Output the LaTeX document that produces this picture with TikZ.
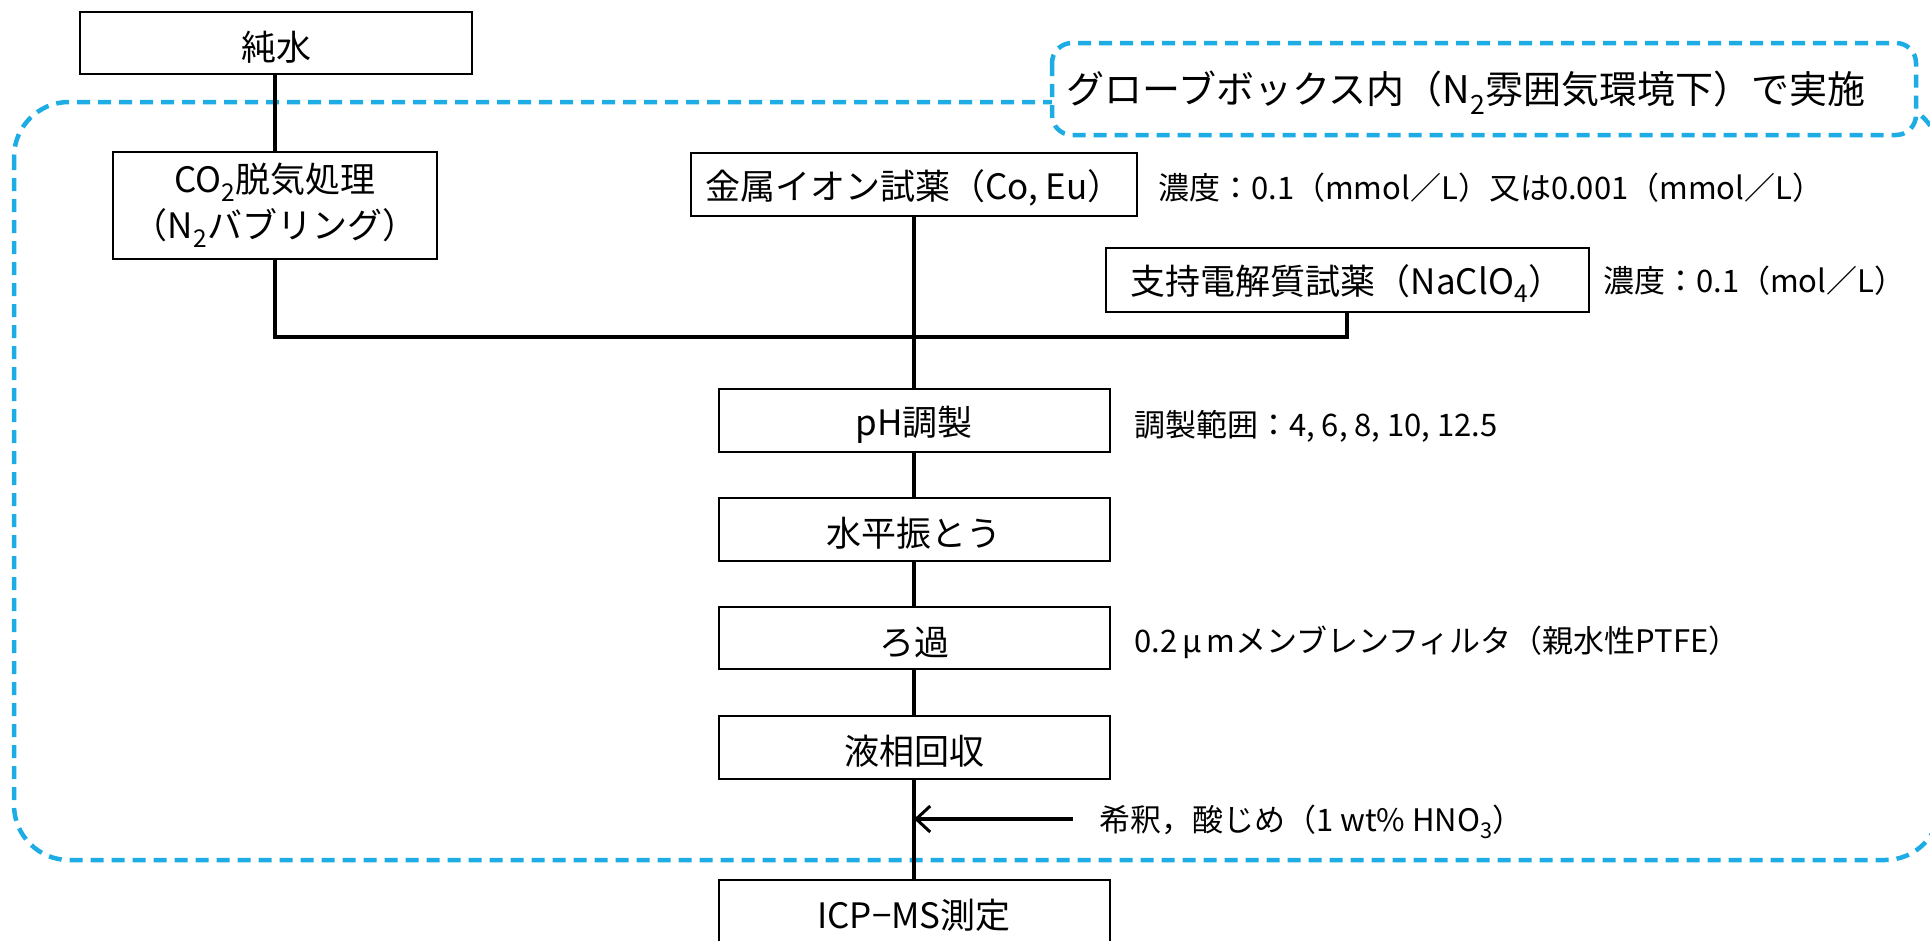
\documentclass[tikz,border=0pt]{standalone}
\usepackage{fontspec}
\setmainfont{Noto Sans CJK JP}
\usetikzlibrary{arrows.meta}
\definecolor{gbblue}{RGB}{30,172,228}
\begin{document}
\begin{tikzpicture}[x=1pt,y=-1pt,
  box/.style={draw=black,line width=2pt,fill=white,inner sep=0pt,align=center,font=\fontsize{35}{46}\selectfont,execute at begin node={\rule{0pt}{37pt}}},
  note/.style={anchor=base west,inner sep=0pt,font=\fontsize{31}{38}\selectfont},
  flow/.style={line width=3.5pt},
  gb/.style={draw=gbblue,line width=4.5pt,dash pattern=on 13pt off 8pt}]
\useasboundingbox (0,0) rectangle (1930,940);
\clip (0,0) rectangle (1930,940);
% glovebox region
\draw[gb,rounded corners=55pt] (14,102) rectangle (1940,860);
\draw[gb,fill=white,rounded corners=20pt] (1052,43) rectangle (1916,135);
\node[inner sep=0pt,font=\fontsize{38}{44}\selectfont] (gblabel) at (1466,93) {グローブボックス内（N\textsubscript{2}雰囲気環境下）で実施};
% boxes
\node[box,minimum width=392pt,minimum height=62pt] (pure) at (276,43) {純水};
\node[box,minimum width=324pt,minimum height=107pt] (co2) at (275,205.5) {CO\textsubscript{2}脱気処理\\（N\textsubscript{2}バブリング）};
\node[box,minimum width=446pt,minimum height=63pt] (metal) at (914,184.5) {金属イオン試薬（Co, Eu）};
\node[box,minimum width=483pt,minimum height=64pt] (support) at (1347,280) {支持電解質試薬（NaClO\textsubscript{4}）};
\node[box,minimum width=391pt,minimum height=63pt] (ph) at (914,420.5) {pH調製};
\node[box,minimum width=391pt,minimum height=63pt] (shake) at (914,529.5) {水平振とう};
\node[box,minimum width=391pt,minimum height=62pt] (filter) at (914,638) {ろ過};
\node[box,minimum width=391pt,minimum height=63pt] (recover) at (914,747.5) {液相回収};
\node[box,minimum width=391pt,minimum height=63pt] (icp) at (914,911.5) {ICP−MS測定};
% notes
\node[note] (n1) at (1158,199) {濃度：0.1（mmol／L）又は0.001（mmol／L）};
\node[note] (n2) at (1603,292) {濃度：0.1（mol／L）};
\node[note] (n3) at (1134,436) {調製範囲：4, 6, 8, 10, 12.5};
\node[note] (n4) at (1134,652) {0.2\hspace{5pt}μ\hspace{5pt}mメンブレンフィルタ（親水性PTFE）};
\node[note] (n5) at (1099,831) {希釈，酸じめ（1 wt\% HNO\textsubscript{3}）};
% connectors
\coordinate (jy) at (0,337);
\draw[flow] (pure.south -| co2.north) -- (co2.north);
\draw[flow] (co2.south) -- (co2.south |- jy) -- (support.south |- jy) -- (support.south);
\draw[flow] (metal.south) -- (ph.north);
\draw[flow] (ph.south) -- (shake.north);
\draw[flow] (shake.south) -- (filter.north);
\draw[flow] (filter.south) -- (recover.north);
\draw[flow] (recover.south) -- (icp.north);
\coordinate (dil) at (1073,819);
\draw[line width=4pt,-{Straight Barb[length=14pt,width=26pt,line width=3pt]}] (dil) -- (dil -| recover.south);
\end{tikzpicture}
\end{document}
